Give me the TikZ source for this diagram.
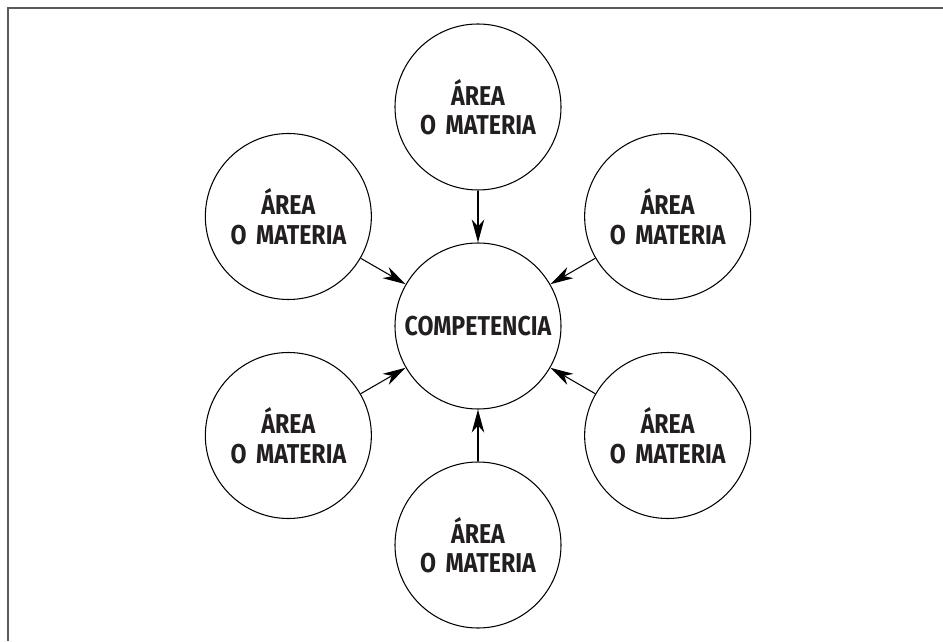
\documentclass[tikz,border=0pt]{standalone}
\usepackage{fontspec}
\usepackage{tikz}
\usetikzlibrary{arrows.meta}
\newfontfamily\areafont[FakeStretch=0.85]{Fira Sans}
\definecolor{framegray}{HTML}{5A5A5A}
\definecolor{ink}{HTML}{231F20}
\tikzset{>/.tip={Stealth[length=4.6mm, width=2.5mm, inset=1.4mm]},
 area/.style={draw, circle, minimum size=3.32cm, inner sep=0pt, line width=0.6pt,
   align=center, text=ink, font=\areafont\bfseries\fontsize{15.5}{16.8}\selectfont}}
\newcommand{\oarea}{ÁREA\\O\hspace{0.15em} MATERIA}

\begin{document}
\begin{tikzpicture}
 \useasboundingbox (-9.56,-6.30) rectangle (9.30,6.52);
 \draw[framegray, line width=0.8pt] (-9.40,-6.30) |- (9.30,6.36);

 \node[area] (comp) at (0, 0) {COMPETENCIA};
 \node[area] (top)  at (0, 4.38) {\oarea};
 \node[area] (ur)   at (3.793, 2.19) {\oarea};
 \node[area] (lr)   at (3.793, -2.19) {\oarea};
 \node[area] (bot)  at (0, -4.38) {\oarea};
 \node[area] (ll)   at (-3.793, -2.19) {\oarea};
 \node[area] (ul)   at (-3.793, 2.19) {\oarea};

 \draw[->, line width=0.6pt] (top) to (comp);
 \draw[->, line width=0.6pt] (ur) to (comp);
 \draw[->, line width=0.6pt] (lr) to (comp);
 \draw[->, line width=0.6pt] (bot) to (comp);
 \draw[->, line width=0.6pt] (ll) to (comp);
 \draw[->, line width=0.6pt] (ul) to (comp);
\end{tikzpicture}
\end{document}
